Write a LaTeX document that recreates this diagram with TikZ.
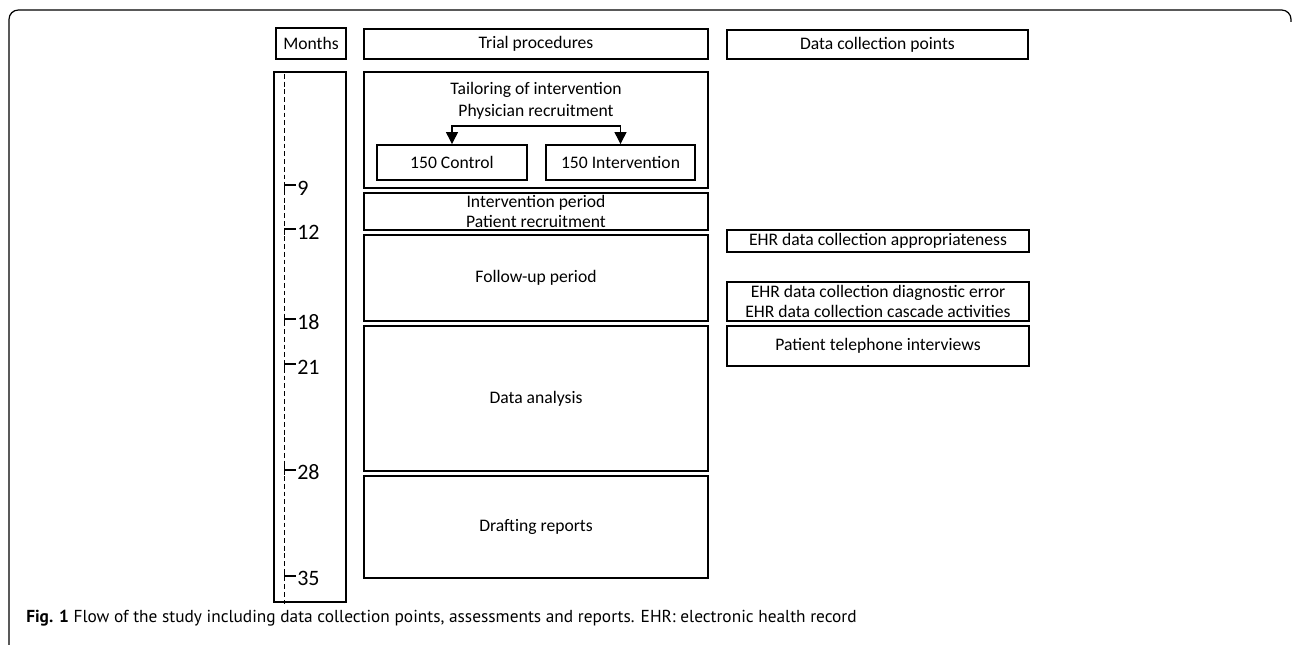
\documentclass[tikz,border=0pt]{standalone}
\usepackage{fontspec}
\setmainfont{Carlito}
\newfontfamily\capfont{PT Sans}
\usetikzlibrary{arrows.meta}
\newcommand\boxat[6]{\node[bx, minimum width={(#4-#2)*0.75pt}, minimum height={(#5-#3)*0.75pt}] (#1) at ({(#2+#4)/2},{(#3+#5)/2}) {#6};}
\newcommand\tickdown[2]{\draw[tk] (284,#2) -- (296,#2); \draw[tk] (284.5,#2) -- (284.5,#2+6); \node[num, anchor=west] (#1) at (297,#2+3) {#1};}
\begin{document}
\begin{tikzpicture}[x=0.75pt,y=-0.75pt,
  txt/.style={inner sep=0pt, align=center, font=\fontsize{13.2}{15.5}\selectfont},
  bx/.style={draw, line width=1.4pt, inner sep=0pt, align=center, font=\fontsize{13.2}{15.5}\selectfont},
  num/.style={inner sep=0pt, font=\fontsize{16.5}{19}\selectfont},
  tk/.style={line width=1.3pt},
  arr/.style={line width=0.9pt, -{Triangle[width=9pt,length=9pt]}},
  frame/.style={line width=0.9pt, rounded corners=7pt}]
\useasboundingbox (0,0) rectangle (1292,645);
% outer frame
\draw[frame] (1291,22) -- (1291,10) -- (9,10) -- (9,645);
% headers
\boxat{Months}{276}{28}{346}{59}{Months}
\boxat{trial}{364}{29}{708}{59}{Trial procedures}
\boxat{dcp}{727}{30}{1028}{59}{Data collection points}
% timeline
\boxat{time}{274}{72}{346}{602}{}
\coordinate (dtop) at (284.5,74);
\coordinate (dbot) at (284.5,604);
\draw[line width=1.3pt, dash pattern=on 3.6pt off 2.2pt] (dtop) -- (dbot);
\tickdown{9}{185}
\tickdown{12}{229}
\tickdown{18}{319}
\tickdown{21}{364}
\draw[tk] (284,470) -- (296,470); \draw[tk] (284.5,465) -- (284.5,475);
\node[num, anchor=west] (28) at (297,472) {28};
\draw[tk] (284,576) -- (296,576); \draw[tk] (284.5,570) -- (284.5,576);
\node[num, anchor=west] (35) at (297,578) {35};
% trial procedures
\boxat{tail}{364}{72}{708}{188}{}
\node[txt] (tailtxt) at (536,90) {Tailoring of intervention};
\node[txt] (phys) at (536,112) {Physician recruitment};
\boxat{ctrl}{377}{145}{527}{180}{150 Control}
\boxat{intv}{546}{145}{695}{180}{150 Intervention}
\coordinate (split) at (536,126);
\draw[arr] (split) -| (ctrl.north);
\draw[arr] (split) -| (intv.north);
\boxat{ip}{364}{193}{708}{230}{Intervention period\\Patient recruitment}
\boxat{fu}{364}{235}{708}{321}{Follow-up period}
\boxat{da}{364}{326}{708}{471}{Data analysis}
\boxat{dr}{364}{476}{708}{578}{Drafting reports}
% data collection points
\boxat{ehr1}{727}{230}{1029}{252}{EHR data collection appropriateness}
\boxat{ehr2}{727}{282}{1029}{321}{EHR data collection diagnostic error\\EHR data collection cascade activities}
\boxat{tel}{727}{326}{1029}{366}{Patient telephone interviews}
% caption
\node[inner sep=0pt, anchor=base west, font=\capfont\fontsize{13}{15}\selectfont] (cap) at (26,622) {\textbf{Fig. 1} Flow of the study including data collection points, assessments and reports. EHR: electronic health record};
\end{tikzpicture}
\end{document}
